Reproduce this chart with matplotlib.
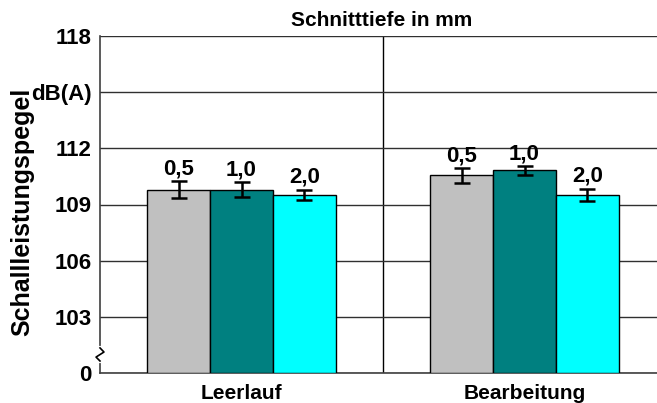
import numpy as np
import matplotlib
matplotlib.use('Agg')
import matplotlib.pyplot as plt

plt.rcParams['font.family'] = ['Liberation Sans', 'DejaVu Sans']
plt.rcParams['font.weight'] = 'bold'

# Daten
betrieb = ['Leerlauf', 'Bearbeitung']
tiefen = ['0,5', '1,0', '2,0']
werte = {
    '0,5': [109.8, 110.55],
    '1,0': [109.8, 110.82],
    '2,0': [109.53, 109.52],
}
fehler = {
    '0,5': [0.43, 0.38],
    '1,0': [0.39, 0.24],
    '2,0': [0.27, 0.33],
}
farben = ['#C0C0C0', '#008080', '#00FFFF']
y_ticks = [100, 103, 106, 109, 112, 115, 118]
y_labels = ['0', '103', '106', '109', '112', 'dB(A)', '118']

fig = plt.figure(figsize=(6.57, 4.03), dpi=100)
ax = fig.add_axes([100/657, 30/403, 557/657, 337/403])

x = np.arange(len(betrieb))
breite = 0.222
for i, t in enumerate(tiefen):
    pos = x + (i - 1) * breite
    ax.bar(pos, np.array(werte[t]) - 100, bottom=100, width=breite, color=farben[i],
           edgecolor='black', linewidth=1, zorder=3)
    ax.errorbar(pos, werte[t], yerr=fehler[t], fmt='none', ecolor='black',
                elinewidth=1.8, capsize=6, capthick=1.8, zorder=4)
    for p, w, f in zip(pos, werte[t], fehler[t]):
        ax.text(p, w + f + 0.1, t, ha='center', va='bottom', fontsize=16,
                fontweight='bold', zorder=5)

ax.set_ylim(100, 118)
ax.set_xlim(-0.5, 1.468)
ax.set_yticks(y_ticks)
ax.set_yticklabels(y_labels, fontsize=16, fontweight='bold')
ax.set_xticks(x)
ax.set_xticklabels(betrieb, fontsize=15, fontweight='bold')
ax.tick_params(axis='y', length=0, pad=6)
ax.tick_params(axis='x', length=0, pad=8)
ax.grid(axis='y', color='#303030', linewidth=1, zorder=0)
ax.axvline(0.5, color='black', linewidth=1, zorder=1)

for s in ['top', 'right']:
    ax.spines[s].set_visible(False)
ax.spines['left'].set_color('#404040')
ax.spines['bottom'].set_color('#404040')
ax.spines['left'].set_linewidth(1.2)
ax.spines['bottom'].set_linewidth(1.2)

# Achsenbruch
ax.plot([-0.5, -0.5], [100.62, 101.36], color='white', linewidth=3,
        clip_on=False, zorder=6)
ax.plot([-0.5, -0.486, -0.514, -0.5], [101.34, 101.12, 100.85, 100.64],
        color='black', linewidth=1.2, clip_on=False, zorder=7)

fig.text(382/657, 1 - 20/403, 'Schnitttiefe in mm', ha='center', va='center',
         fontsize=15, fontweight='bold')
fig.text(22/657, 1 - 212/403, 'Schallleistungspegel', ha='center', va='center',
         rotation=90, fontsize=18, fontweight='bold')

plt.savefig('out.png', dpi=100)
